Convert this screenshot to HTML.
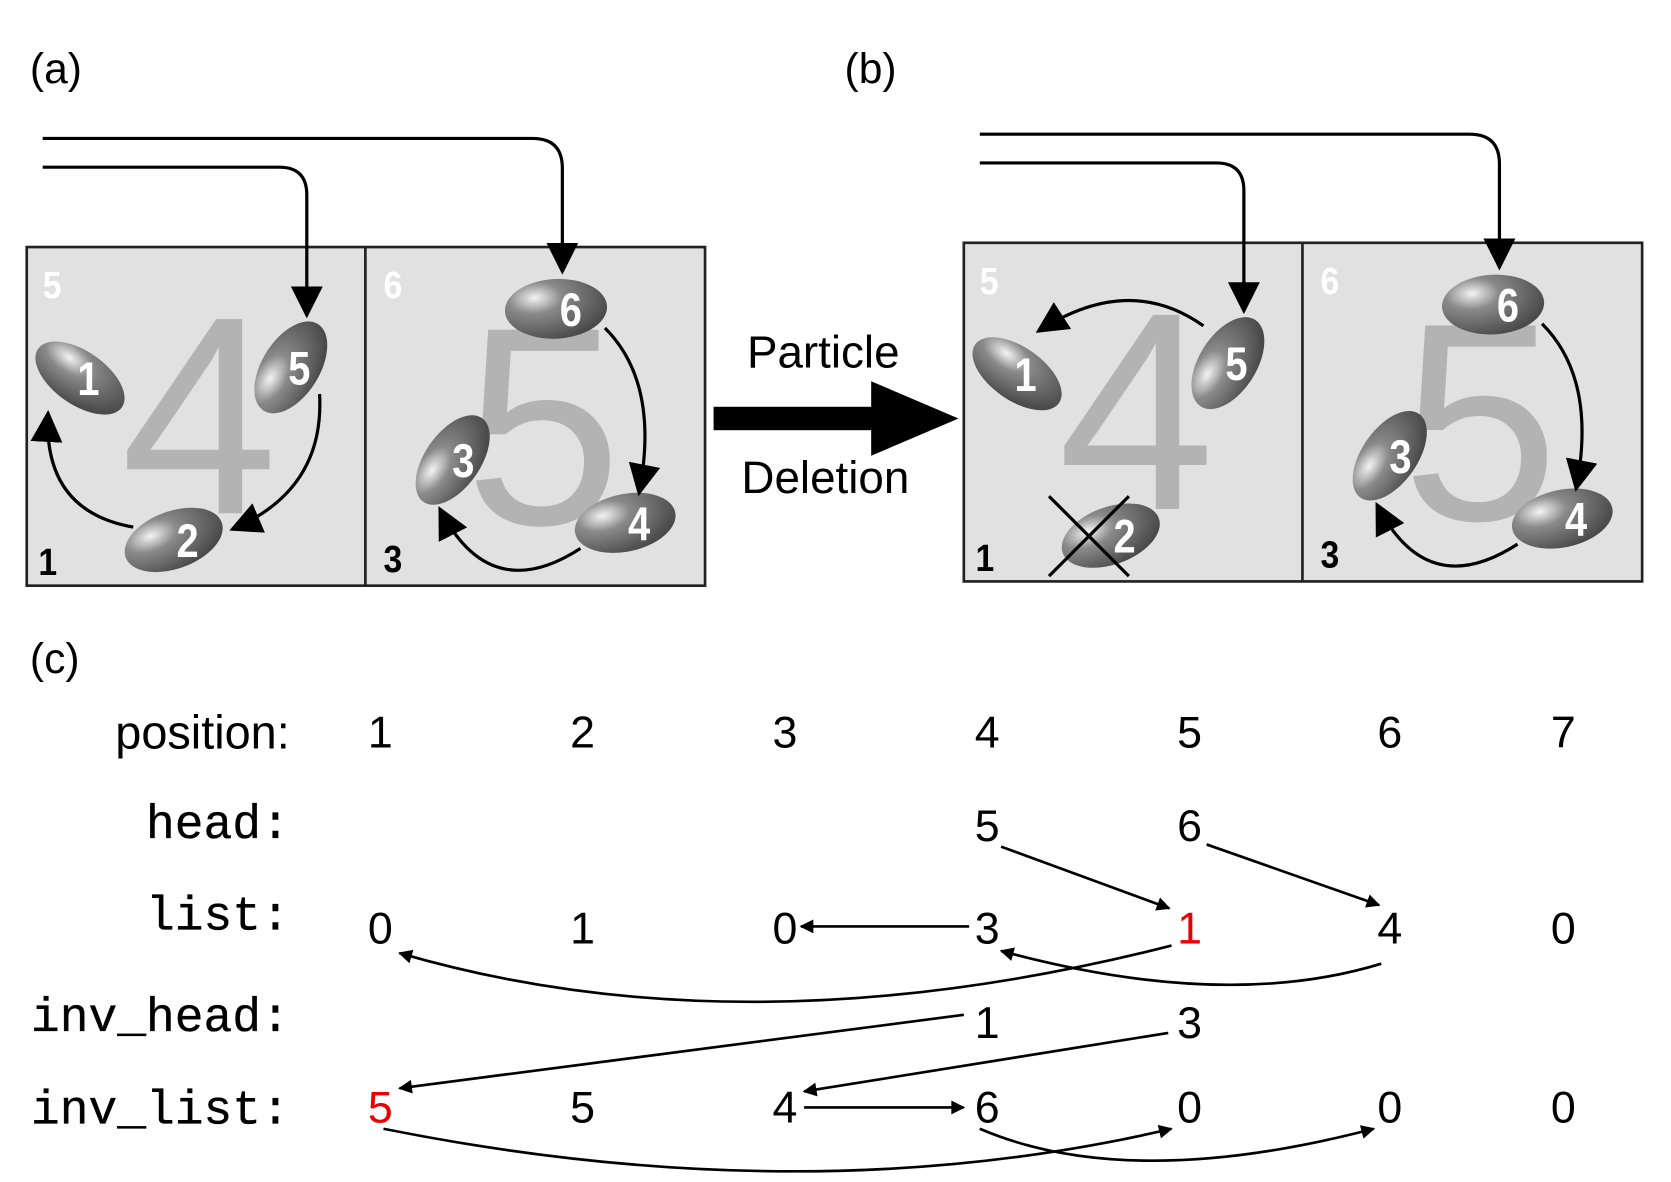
<!DOCTYPE html>
<html><head><meta charset="utf-8"><style>
html,body{margin:0;padding:0;background:#fff;}
svg{display:block;}
.sans{font-family:"Liberation Sans",sans-serif;}
.mono{font-family:"Liberation Mono",monospace;}
</style></head><body>
<svg id="fig" width="1671" height="1182" viewBox="0 0 1569 1110" xmlns="http://www.w3.org/2000/svg">
<defs>
<marker id="ah" viewBox="0 0 10 10" refX="9" refY="5" markerWidth="20" markerHeight="13" markerUnits="userSpaceOnUse" orient="auto"><path d="M0,0 L10,5 L0,10 z" fill="#000"/></marker>
<marker id="ahb" viewBox="0 0 10 10" refX="9" refY="5" markerWidth="10" markerHeight="10" markerUnits="strokeWidth" orient="auto"><path d="M0,0 L10,5 L0,10 z" fill="#000"/></marker>
<radialGradient id="pg" cx="0.3" cy="0.3" r="0.75"><stop offset="0" stop-color="#f4f4f4"/><stop offset="0.35" stop-color="#8a8a8a"/><stop offset="1" stop-color="#4a4a4a"/></radialGradient>
</defs>
<g class="sans" font-size="40">
<text x="28" y="78">(a)</text>
<text x="793" y="78">(b)</text>
<text x="28" y="632">(c)</text>
</g>
<g id="boxes"></g>
<g>
<rect x="670" y="382" width="150" height="22" fill="#000"/>
<path d="M818,358 L900,393 L818,428 z" fill="#000"/>
<text class="sans" x="773" y="345" font-size="43" text-anchor="middle">Particle</text>
<text class="sans" x="775" y="463" font-size="43" text-anchor="middle">Deletion</text>
</g>
<g id="table"></g>
</svg>
<script>
const NS='http://www.w3.org/2000/svg';
const positions=[1,2,3,4,5,6,7];
const headVals=['','','','5','6','',''];
const listVals=['0','1','0','3','1','4','0'];
const invHeadVals=['','','','1','3','',''];
const invListVals=['5','5','4','6','0','0','0'];
const redCells=[['list',4],['inv_list',0]];
const colX=[357,547,737,927,1117,1305,1468];
function mk(tag,attrs,parent){const e=document.createElementNS(NS,tag);for(const k in attrs)e.setAttribute(k,attrs[k]);parent.appendChild(e);return e;}
const boxes=document.getElementById('boxes');
function panel(ox,oy,deleted){
  const g=mk('g',{transform:`translate(${ox},${oy})`},boxes);
  
  
  mk('rect',{x:25,y:232,width:637,height:318,fill:'#e1e1e1',stroke:'#222','stroke-width':2.5},g);
  mk('line',{x1:343,y1:232,x2:343,y2:550,stroke:'#222','stroke-width':2.5},g);
  let t=mk('text',{x:187,y:482,'font-size':265,fill:'#b3b3b3','text-anchor':'middle',class:'sans'},g);t.textContent='4';
  t=mk('text',{x:510,y:492,'font-size':265,fill:'#b3b3b3','text-anchor':'middle',class:'sans'},g);t.textContent='5';
  [['5',40,280,'#fff'],['6',360,280,'#fff'],['1',36,540,'#000'],['3',360,537,'#000']].forEach(d=>{
    const e=mk('text',{x:d[1],y:d[2],'font-size':36,'font-weight':'bold',fill:d[3],class:'sans',transform:`translate(${d[1]} 0) scale(0.88 1) translate(${-d[1]} 0)`},g);e.textContent=d[0];});
  mk('path',{d:'M40,130 H500 Q528,130 528,158 V255',fill:'none',stroke:'#000','stroke-width':3,'marker-end':'url(#ahb)'},g);
  mk('path',{d:'M40,157 H262 Q288,157 288,183 V296',fill:'none',stroke:'#000','stroke-width':3,'marker-end':'url(#ahb)'},g);
  const parts=[['1',75,355,48,25,35,8],['5',273,345,48,27,-58,8],['2',163,507,48,27,-20,13],['6',522,290,48,28,-3,14],['3',425,432,48,26,-55,10],['4',587,491,48,27,-12,13]];
  parts.forEach(p=>{
    const pg=mk('g',{},g);
    
    
    mk('ellipse',{cx:p[1],cy:p[2],rx:p[3],ry:p[4],fill:'url(#pg)',transform:`rotate(${p[5]} ${p[1]} ${p[2]})`},pg);
    const x=p[1]+p[6];
    const e=mk('text',{x:x,y:p[2]+16,'font-size':44,'font-weight':'bold',fill:'#fff','text-anchor':'middle',class:'sans',transform:`translate(${x} 0) scale(0.85 1) translate(${-x} 0)`},pg);e.textContent=p[0];
  });
  const arr=(d)=>mk('path',{d:d,fill:'none',stroke:'#000','stroke-width':3,'marker-end':'url(#ahb)'},g);
  if(!deleted){
    arr('M300,370 Q305,460 218,497');
    arr('M125,495 Q40,480 45,388');
  } else {
    arr('M250,310 Q180,260 95,315');
    mk('line',{x1:105,y1:470,x2:180,y2:545,stroke:'#000','stroke-width':3},g);
    mk('line',{x1:180,y1:470,x2:105,y2:545,stroke:'#000','stroke-width':3},g);
  }
  arr('M568,308 Q620,360 600,463');
  arr('M545,515 Q460,570 413,478');
}
panel(0,0,false);
panel(880,-4,true);

const tg=document.getElementById('table');
const labels=[['position:',703,'sans',44],['head:',787,'mono',45],['list:',873,'mono',45],['inv_head:',968,'mono',45],['inv_list:',1055,'mono',45]];
labels.forEach(l=>{
  const e=mk('text',{x:272,y:l[1],'font-size':l[3],'text-anchor':'end',class:l[2]},tg);
  if(l[2]==='mono'){e.setAttribute('stroke','#000');e.setAttribute('stroke-width','0.35');}
  
  
  e.textContent=l[0];
});
const rows=[['position',positions.map(String),702],['head',headVals,790],['list',listVals,886],['inv_head',invHeadVals,975],['inv_list',invListVals,1054]];
rows.forEach(r=>{
  r[1].forEach((v,i)=>{
    if(v==='')return;
    const red=redCells.some(c=>c[0]===r[0]&&c[1]===i);
    const e=mk('text',{x:colX[i],y:r[2],'font-size':42,'text-anchor':'middle',fill:red?'#e00':'#000',class:'sans'},tg);
    
    
    e.textContent=v;
  });
});
const links=[
 'M940,795 L1098,853','M1133,793 L1295,850','M910,870 L752,870',
 'M1100,888 Q700,990 375,895','M1297,905 Q1150,950 940,893',
 'M905,953 L375,1022','M1097,970 L755,1025','M755,1040 L905,1040',
 'M360,1060 Q760,1140 1100,1060','M920,1060 Q1060,1120 1290,1060'];
links.forEach((d,i)=>{
  const p=mk('path',{d:d,fill:'none',stroke:'#000','stroke-width':2.5,'marker-end':'url(#ah)'},tg);
  
  
});
</script>
</body></html>
